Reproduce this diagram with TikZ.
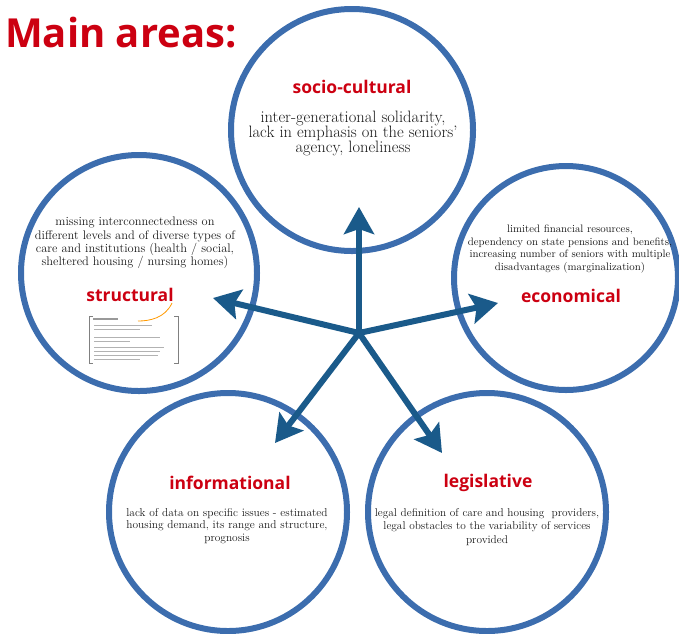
\documentclass[tikz,border=0pt]{standalone}
\usepackage{fontspec}
\usepackage{tikz}
\usetikzlibrary{arrows.meta}
\newfontfamily\headfont{Open Sans}

\definecolor{ringblue}{HTML}{3C6DAE}
\definecolor{spokeblue}{HTML}{1A5A8A}
\definecolor{areared}{HTML}{CC0011}

\tikzset{
    ring/.style={draw=ringblue, line width=6pt, circle, inner sep=0pt},
    areatitle/.style={text=areared, font=\headfont\bfseries\fontsize{17.5}{19}\selectfont},
    areatext/.style={align=center, text=black!90, font=\fontsize{11.3}{13.3}\selectfont},
    spoke/.style={draw=spokeblue, line width=6pt,
        -{Stealth[length=27pt, width=30pt, inset=5pt]}}
}

\begin{document}
\begin{tikzpicture}[x=1pt, y=-1pt]
\useasboundingbox (0, 0) rectangle (679, 633);

% Draw title.
\node[anchor=base west, inner sep=0pt, text=areared,
    font=\headfont\bfseries\fontsize{40}{42}\selectfont] (title) at (5, 47) {Main areas:};

% Draw area circles.
\node[ring, minimum size=242pt] (social) at (352, 130) {};
\node[ring, minimum size=236pt] (struct) at (139, 273) {};
\node[ring, minimum size=224pt] (econ) at (566, 278) {};
\node[ring, minimum size=238pt] (info) at (228, 512) {};
\node[ring, minimum size=238pt] (legis) at (487, 512) {};

% Draw area names.
\node[areatitle] (socialname) at (352, 87) {socio-cultural};
\node[areatitle] (structname) at (130, 295) {structural};
\node[areatitle] (econname) at (571, 296) {economical};
\node[areatitle] (infoname) at (230, 483) {informational};
\node[areatitle] (legisname) at (488, 483) {legislative};

% Draw area texts.
\node[areatext, font=\fontsize{16.5}{15}\selectfont] (socialtext) at (353, 133)
{inter-generational solidarity,\\ lack in emphasis on the seniors'\\ agency, loneliness};
\node[areatext, font=\fontsize{12.4}{13.3}\selectfont] (structtext) at (135, 243)
{missing interconnectedness on\\ different levels and of diverse types of\\
care and institutions (health / social,\\ sheltered housing / nursing homes)};
\node[areatext, font=\fontsize{10.8}{12.6}\selectfont] (econtext) at (570, 249)
{limited financial resources,\\ dependency on state pensions and benefits,\\
increasing number of seniors with multiple\\ disadvantages (marginalization)};
\node[areatext, font=\fontsize{11.4}{12.8}\selectfont] (infotext) at (227, 526)
{lack of data on specific issues - estimated\\ housing demand, its range and structure,\\ prognosis};
\node[areatext] (legistext) at (487, 527)
{legal definition of care and housing\ \ providers,\\ legal obstacles to the variability of services\\ provided};

% Draw small note under structural.
\draw[orange!80!yellow, thick] (172, 303) .. controls (165, 318) and (150, 321) .. (138, 321);
\draw[gray, thick] (93, 316) -- (89, 316) -- (89, 363) -- (93, 363);
\draw[gray, thick] (174, 316) -- (178, 316) -- (178, 363) -- (174, 363);
\draw[gray!80, line width=1.2pt] (93, 319) -- (118, 319);
\foreach \y/\x in {325/152, 329/140, 337/160, 341/130, 347/164, 351/160, 355/158, 359/140}
{
    \draw[gray!60, line width=1pt] (94, \y) -- (\x, \y);
}

% Draw spokes.
\coordinate (hub) at (359, 333);
\coordinate (tipsocial) at (359, 207);
\coordinate (tipstruct) at (213, 298);
\coordinate (tipecon) at (498, 303);
\coordinate (tipinfo) at (275, 443);
\coordinate (tiplegis) at (442, 453);
\foreach \t in {tipsocial, tipstruct, tipecon, tipinfo, tiplegis}
    \draw[spoke] (hub) -- (\t);

\end{tikzpicture}
\end{document}
